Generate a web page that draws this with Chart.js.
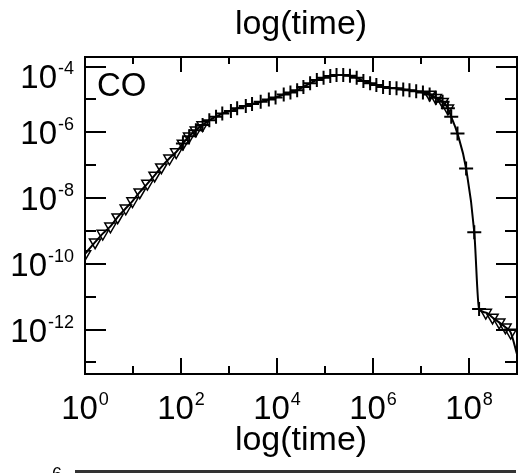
<!DOCTYPE html>
<html><head><meta charset="utf-8">
<script src="https://cdn.jsdelivr.net/npm/chart.js@4.4.1/dist/chart.umd.min.js"></script>
<style>html,body{margin:0;padding:0;background:#fff;}#c{display:block;}</style>
</head><body>
<canvas id="c" width="525" height="473"></canvas>
<script>
// exponents (log10)
const logTime = [0.00,0.21,0.37,0.53,0.68,0.85,0.99,1.14,1.30,1.45,1.59,1.76,1.90,2.04,2.17,2.31,2.45,2.59,2.73,2.86,3.04,3.17,3.35,3.48,3.66,3.83,3.97,4.14,4.28,4.42,4.55,4.69,4.83,4.97,5.11,5.24,5.38,5.52,5.66,5.80,5.94,6.07,6.21,6.35,6.49,6.63,6.76,6.90,7.04,7.18,7.31,7.45,7.56,7.63,7.76,7.94,8.11,8.21,8.35,8.49,8.63,8.76,8.87,9.00];
const logCO   = [-9.70,-9.34,-9.08,-8.86,-8.58,-8.31,-8.09,-7.82,-7.56,-7.31,-7.06,-6.79,-6.60,-6.34,-6.12,-5.94,-5.78,-5.63,-5.53,-5.43,-5.35,-5.27,-5.20,-5.14,-5.07,-5.00,-4.94,-4.85,-4.79,-4.72,-4.62,-4.51,-4.41,-4.34,-4.29,-4.26,-4.26,-4.28,-4.34,-4.44,-4.51,-4.56,-4.62,-4.65,-4.66,-4.70,-4.72,-4.75,-4.79,-4.85,-4.95,-5.07,-5.27,-5.53,-6.04,-7.10,-9.04,-11.37,-11.48,-11.63,-11.78,-11.93,-12.09,-12.75];
const xTickExponents = [0,1,2,3,4,5,6,7,8,9];
const yTickExponents = [-13,-12,-11,-10,-9,-8,-7,-6,-5,-4];
const xLabelExponents = [0,2,4,6,8];
const yLabelExponents = [-12,-10,-8,-6,-4];
const xRange = [0, 9];
const yRange = [-13.35, -3.71];
const chartTitle = 'log(time)';
const xAxisTitle = 'log(time)';
const speciesLabel = 'CO';

const FONT = '"Liberation Sans", Arial, Helvetica, sans-serif';
const points = logTime.map((t, i) => ({x: Math.pow(10, t), y: Math.pow(10, logCO[i])}));
const hasTriangle = t => t <= 2.5 || (t >= 7.1 && t <= 7.6) || (t >= 8.3 && t < 8.95);
const hasCross = t => t >= 2.0 && t <= 8.25;

function drawPow(ctx, e, x, yc, align) {
  const base = '10', exp = String(e);
  ctx.font = '33px ' + FONT; const wb = ctx.measureText(base).width;
  ctx.font = '18px ' + FONT; const we = ctx.measureText(exp).width;
  const total = wb + 1 + we;
  const x0 = align === 'center' ? x - total / 2 : x - total;
  const baseline = yc + 12;
  ctx.textAlign = 'left'; ctx.textBaseline = 'alphabetic';
  ctx.font = '33px ' + FONT; ctx.fillText(base, x0, baseline);
  ctx.font = '18px ' + FONT; ctx.fillText(exp, x0 + wb + 1, baseline - 14);
}

const frame = {
  id: 'frame',
  afterDraw(chart) {
    const {ctx, chartArea: a, scales: {x, y}} = chart;
    ctx.save();
    ctx.strokeStyle = '#000';
    ctx.lineWidth = 2;
    ctx.strokeRect(a.left, a.top, a.right - a.left, a.bottom - a.top);
    ctx.beginPath();
    xTickExponents.forEach(e => {
      const px = Math.round(x.getPixelForValue(Math.pow(10, e)));
      const even = e % 2 === 0;
      ctx.moveTo(px, a.bottom); ctx.lineTo(px, a.bottom - (even ? 16 : 8));
      ctx.moveTo(px, a.top); ctx.lineTo(px, a.top + (even ? 15 : 7));
    });
    yTickExponents.forEach(e => {
      const py = Math.round(y.getPixelForValue(Math.pow(10, e)));
      const even = Math.abs(e) % 2 === 0;
      ctx.moveTo(a.left, py); ctx.lineTo(a.left + (even ? 21 : 11), py);
      ctx.moveTo(a.right, py); ctx.lineTo(a.right - (even ? 21 : 12), py);
    });
    ctx.stroke();
    ctx.fillStyle = '#000';
    // tick labels with superscript exponents
    xLabelExponents.forEach(e => drawPow(ctx, e, x.getPixelForValue(Math.pow(10, e)), a.bottom + 32.5, 'center'));
    yLabelExponents.forEach(e => drawPow(ctx, e, a.left - 11, Math.max(y.getPixelForValue(Math.pow(10, e)), a.top + 19), 'right'));
    // title
    ctx.font = '34px ' + FONT;
    ctx.textAlign = 'center';
    ctx.textBaseline = 'alphabetic';
    ctx.fillText(chartTitle, (a.left + a.right) / 2, 34);
    // species label
    ctx.font = '33px ' + FONT;
    ctx.textAlign = 'left';
    ctx.fillText(speciesLabel, a.left + 12, a.top + 39);
    // top edge of the next panel, cut by the picture border
    ctx.fillStyle = '#333';
    ctx.fillRect(75, 470, 441, 3);
    ctx.fillStyle = '#000';
    ctx.font = '18px ' + FONT;
    ctx.fillText('-6', 46, 480);
    ctx.restore();
  }
};

new Chart(document.getElementById('c'), {
  type: 'line',
  data: {
    datasets: [
      {data: points, borderColor: '#000', borderWidth: 2, pointRadius: 0, fill: false, tension: 0, cubicInterpolationMode: 'monotone', order: 1},
      {data: points, showLine: false, pointStyle: 'triangle', rotation: 180, borderColor: '#000', backgroundColor: 'rgba(0,0,0,0)', borderWidth: 1.5,
       pointRadius: c => hasTriangle(logTime[c.dataIndex]) ? 6.5 : 0, order: 2},
      {data: points, showLine: false, pointStyle: 'cross', borderColor: '#000', borderWidth: 2,
       pointRadius: c => hasCross(logTime[c.dataIndex]) ? 7 : 0, order: 0}
    ]
  },
  options: {
    responsive: false,
    devicePixelRatio: 1,
    animation: false,
    layout: {padding: {left: 0, right: 5, top: 57, bottom: 0}},
    plugins: {legend: {display: false}, tooltip: {enabled: false}, title: {display: false}},
    scales: {
      x: {
        type: 'logarithmic', position: 'bottom',
        min: Math.pow(10, xRange[0]), max: Math.pow(10, xRange[1]),
        afterBuildTicks: s => { s.ticks = xTickExponents.map(e => ({value: Math.pow(10, e)})); },
        afterFit: s => { s.height = 99; s.paddingLeft = 0; s.paddingRight = 0; },
        ticks: {display: false, autoSkip: false, maxRotation: 0},
        grid: {display: false, drawTicks: false},
        border: {display: false},
        title: {display: true, text: xAxisTitle, color: '#000', font: {family: FONT, size: 34}, padding: {top: 0, bottom: 12}}
      },
      y: {
        type: 'logarithmic', position: 'left',
        min: Math.pow(10, yRange[0]), max: Math.pow(10, yRange[1]),
        afterBuildTicks: s => { s.ticks = yTickExponents.map(e => ({value: Math.pow(10, e)})); },
        afterFit: s => { s.width = 85; s.paddingTop = 0; s.paddingBottom = 0; },
        ticks: {display: false, autoSkip: false},
        grid: {display: false, drawTicks: false},
        border: {display: false}
      }
    }
  },
  plugins: [frame]
});
</script>
</body></html>
